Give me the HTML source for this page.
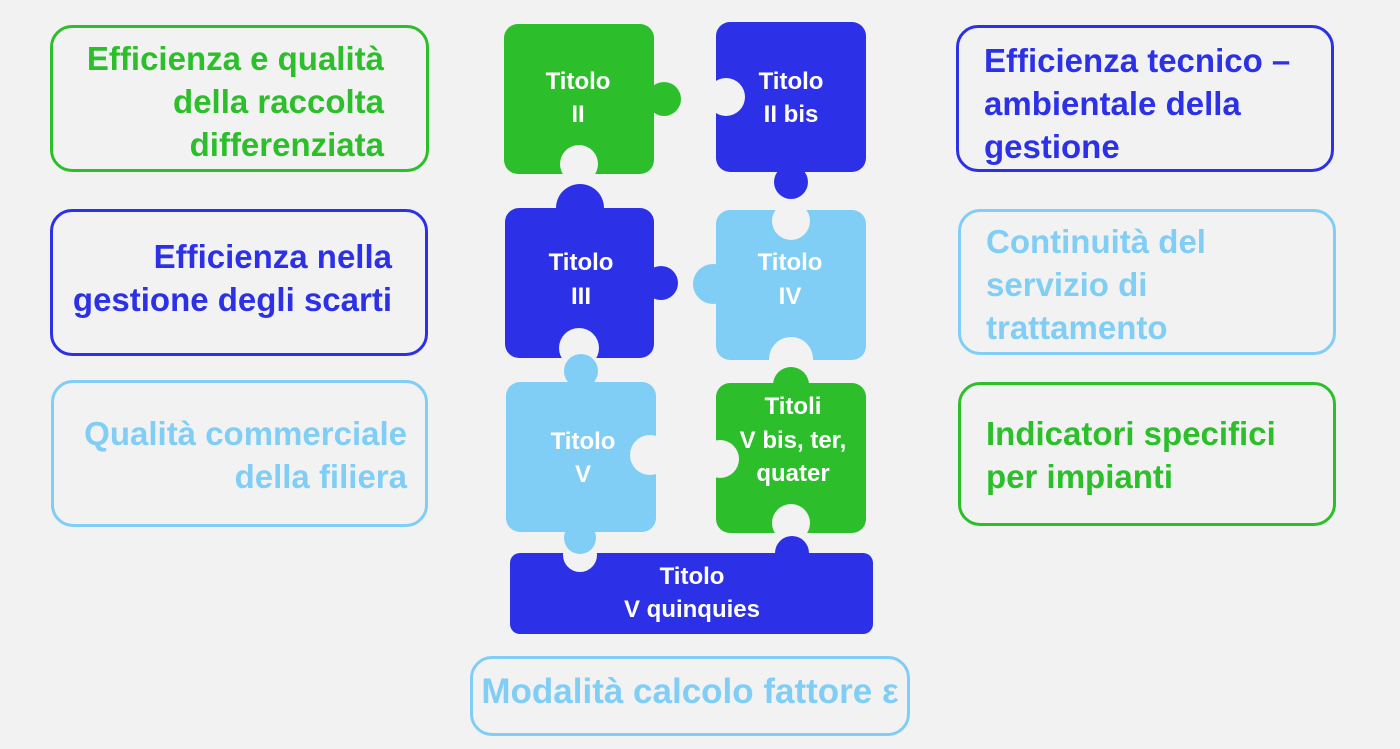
<!DOCTYPE html>
<html><head><meta charset="utf-8"><style>
body{margin:0;width:1400px;height:749px;background:#f2f2f2;overflow:hidden;font-family:"Liberation Sans",sans-serif;}
.b{position:absolute;box-sizing:border-box;border:3.5px solid;border-radius:22px;font-weight:bold;font-size:33px;line-height:43px;white-space:nowrap;}
.l{text-align:right;}
.r{text-align:left;padding-left:25px;}
svg{position:absolute;left:0;top:0}
</style></head><body>
<div class="b l" style="left:50px;top:25px;width:379px;height:147px;border-color:#2dbf2b;color:#2dbf2b;padding-top:9px;padding-right:42px">Efficienza e qualità<br>della raccolta<br>differenziata</div>
<div class="b l" style="left:50px;top:209px;width:378px;height:147px;border-color:#2c31e8;color:#2c31e8;padding-top:23px;padding-right:33px">Efficienza nella<br>gestione degli scarti</div>
<div class="b l" style="left:51px;top:380px;width:377px;height:147px;border-color:#80cef5;color:#80cef5;padding-top:29px;padding-right:18px">Qualità commerciale<br>della filiera</div>
<div class="b r" style="left:956px;top:25px;width:378px;height:147px;border-color:#2c31e8;color:#2c31e8;padding-top:11px">Efficienza tecnico –<br>ambientale della<br>gestione</div>
<div class="b r" style="left:958px;top:209px;width:378px;height:146px;border-color:#80cef5;color:#80cef5;padding-top:8px">Continuità del<br>servizio di<br>trattamento</div>
<div class="b r" style="left:958px;top:382px;width:378px;height:144px;border-color:#2dbf2b;color:#2dbf2b;padding-top:27px">Indicatori specifici<br>per impianti</div>
<div class="b" style="left:470px;top:656px;width:440px;height:80px;border-color:#80cef5;color:#80cef5;padding-top:11px;text-align:center;font-size:35px">Modalità calcolo fattore ε</div>
<svg width="1400" height="749" font-family="Liberation Sans,sans-serif" font-weight="bold" font-size="24" fill="#fff" text-anchor="middle">
<g fill="#2dbf2b"><rect x="504" y="24" width="150" height="150" rx="14"/><circle cx="664" cy="99" r="17"/></g>
<circle cx="579" cy="164" r="19" fill="#f2f2f2"/>
<g fill="#2c31e8"><rect x="716" y="22" width="150" height="150" rx="14"/><circle cx="791" cy="182" r="17"/></g>
<circle cx="726" cy="97" r="19" fill="#f2f2f2"/>
<g fill="#2c31e8"><rect x="505" y="208" width="149" height="150" rx="14"/><circle cx="580" cy="208" r="24"/><circle cx="661" cy="283" r="17"/></g>
<circle cx="579" cy="348" r="20" fill="#f2f2f2"/>
<g fill="#80cef5"><rect x="716" y="210" width="150" height="150" rx="14"/><circle cx="713" cy="284" r="20"/></g>
<circle cx="791" cy="221" r="19" fill="#f2f2f2"/><circle cx="791" cy="359" r="22" fill="#f2f2f2"/>
<g fill="#80cef5"><rect x="506" y="382" width="150" height="150" rx="14"/><circle cx="581" cy="371" r="17"/></g>
<circle cx="650" cy="455" r="20" fill="#f2f2f2"/>
<g fill="#2dbf2b"><rect x="716" y="383" width="150" height="150" rx="14"/><circle cx="791" cy="385" r="18"/></g>
<circle cx="720" cy="459" r="19" fill="#f2f2f2"/><circle cx="791" cy="523" r="19" fill="#f2f2f2"/>
<g fill="#2c31e8"><rect x="510" y="553" width="363" height="81" rx="10"/><circle cx="792" cy="553" r="17"/></g>
<circle cx="580" cy="555" r="17" fill="#f2f2f2"/>
<circle cx="580" cy="538" r="16" fill="#80cef5"/>
<text x="578" y="89">Titolo</text><text x="578" y="122">II</text>
<text x="791" y="89">Titolo</text><text x="791" y="122">II bis</text>
<text x="581" y="270">Titolo</text><text x="581" y="304">III</text>
<text x="790" y="270">Titolo</text><text x="790" y="304">IV</text>
<text x="583" y="449">Titolo</text><text x="583" y="482">V</text>
<text x="793" y="414">Titoli</text><text x="793" y="448">V bis, ter,</text><text x="793" y="481">quater</text>
<text x="692" y="584">Titolo</text><text x="692" y="617">V quinquies</text>
</svg>
</body></html>
